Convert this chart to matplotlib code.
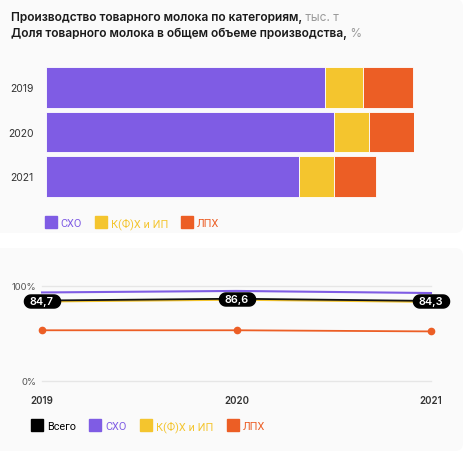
import numpy as np
import matplotlib
matplotlib.use("Agg")
import matplotlib.pyplot as plt
from matplotlib.patches import FancyBboxPatch
from matplotlib.lines import Line2D
from matplotlib.path import Path

plt.rcParams['font.family'] = ['Inter', 'DejaVu Sans']
LEGEND_FONT = ['Roboto', 'DejaVu Sans']

# --- data -------------------------------------------------------------
years = ['2019', '2020', '2021']
categories = ['СХО', 'К(Ф)Х и ИП', 'ЛПХ']
sho_volume = [1395, 1440, 1265]
kfh_volume = [190, 175, 175]
lph_volume = [250, 225, 210]

share_years = [2019, 2020, 2021]
share_total = [84.7, 86.6, 84.3]
share_sho = [93.2, 94.8, 92.6]
share_kfh = [83.7, 85.6, 83.3]
share_lph = [53.4, 53.4, 52.2]
total_labels = ['84,7', '86,6', '84,3']

title_1 = 'Производство товарного молока по категориям,'
unit_1 = ' тыс. т'
title_2 = 'Доля товарного молока в общем объеме производства,'
unit_2 = ' %'

PURPLE = '#7F5CE4'
YELLOW = '#F4C52E'
ORANGE = '#EC5E25'
PANEL = '#FAFAFA'

W, H = 467, 452


def px_box(x0, y0, x1, y1):
    """Pixel box (top-left origin) -> figure fraction rect."""
    return [x0 / W, 1 - y1 / H, (x1 - x0) / W, (y1 - y0) / H]


def stadium_marker(w, h):
    r = h / 2
    c = w / 2 - r
    t1 = np.linspace(-np.pi / 2, np.pi / 2, 20)
    t2 = np.linspace(np.pi / 2, 3 * np.pi / 2, 20)
    xs = np.concatenate([c + r * np.cos(t1), -c + r * np.cos(t2)])
    ys = np.concatenate([r * np.sin(t1), r * np.sin(t2)])
    verts = np.column_stack([xs, ys])
    verts = np.vstack([verts, verts[:1]])
    codes = [Path.MOVETO] + [Path.LINETO] * (len(verts) - 2) + [Path.CLOSEPOLY]
    return Path(verts, codes)


fig = plt.figure(figsize=(W / 100, H / 100), dpi=100)
fig.patch.set_facecolor('white')

# panel backgrounds (inches)
for (y0, y1) in [(0, 234), (249, 452)]:
    fig.patches.append(FancyBboxPatch(
        (-0.2, (H - y1) / 100), (463 + 20) / 100, (y1 - y0) / 100,
        boxstyle='round,pad=0,rounding_size=0.08',
        transform=fig.dpi_scale_trans, fc=PANEL, ec='none', zorder=-10))

# --- titles -------------------------------------------------------------
t1 = fig.text(11 / W, 1 - 21 / H, title_1, fontsize=8.6, fontweight='semibold',
              color='#1a1a1a', va='baseline')
fig.add_artist(plt.Annotation(unit_1, xy=(1, 0), xycoords=t1, fontsize=8.6,
                              color='#9a9a9a', va='bottom', ha='left'))
t2 = fig.text(11 / W, 1 - 37 / H, title_2, fontsize=8.6, fontweight='semibold',
              color='#1a1a1a', va='baseline')
fig.add_artist(plt.Annotation(unit_2, xy=(1, 0), xycoords=t2, fontsize=8.6,
                              color='#9a9a9a', va='bottom', ha='left'))

# --- bar chart ----------------------------------------------------------
ax1 = fig.add_axes(px_box(46, 66.25, 414, 199.75))
ax1.set_facecolor('none')
pos = np.arange(len(years))
left = np.zeros(len(years))
for vals, col in zip([sho_volume, kfh_volume, lph_volume], [PURPLE, YELLOW, ORANGE]):
    ax1.barh(pos, vals, left=left, height=0.9, color=col, edgecolor='white', linewidth=0.6)
    left = left + np.array(vals)
ax1.set_xlim(0, max(left))
ax1.set_ylim(2.5, -0.5)
ax1.set_yticks(pos)
ax1.set_yticklabels(years, fontsize=7.5, color='#333333')
ax1.tick_params(axis='y', length=0, pad=9)
ax1.set_xticks([])
for s in ax1.spines.values():
    s.set_visible(False)

h1 = [Line2D([], [], marker='s', linestyle='none', color=c, markersize=8.5)
      for c in [PURPLE, YELLOW, ORANGE]]
fig.legend(h1, categories, loc='center left', bbox_to_anchor=(46 / W, 1 - 224 / H),
           ncol=3, frameon=False, labelcolor='linecolor',
           prop={'family': LEGEND_FONT, 'size': 7.8},
           handlelength=0.95, handletextpad=0.4, columnspacing=1.3,
           borderpad=0, borderaxespad=0)

# --- line chart ---------------------------------------------------------
ax2 = fig.add_axes(px_box(42, 287, 431, 382))
ax2.set_facecolor('none')
ax2.set_xlim(2019, 2021)
ax2.set_ylim(0, 100)
for yv in [0, 100]:
    ax2.axhline(yv, color='#e6e6e6', lw=1, zorder=0, clip_on=False)
ax2.plot(share_years, share_sho, color=PURPLE, lw=1.5, clip_on=False, zorder=3)
ax2.plot(share_years, share_lph, color=ORANGE, lw=1.3, marker='o', ms=4.5,
         clip_on=False, zorder=3)
ax2.plot(share_years, share_kfh, color=YELLOW, lw=1.5, clip_on=False, zorder=3)
ax2.plot(share_years, share_total, color='#111111', lw=1.3, clip_on=False, zorder=4)
ax2.plot(share_years, share_total, linestyle='none', marker=stadium_marker(36, 13),
         ms=26, mfc='black', mec='black', clip_on=False, zorder=5)
for x, y, lab in zip(share_years, share_total, total_labels):
    ax2.text(x, y, lab, ha='center', va='center', color='white', fontsize=7.8,
             fontweight='semibold', zorder=6)
ax2.set_yticks([0, 100])
ax2.set_yticklabels(['0%', '100%'], fontsize=6.8, color='#555555')
ax2.set_xticks(share_years)
ax2.set_xticklabels(years, fontsize=7, fontweight='semibold', color='#333333')
ax2.tick_params(axis='y', length=0, pad=4)
ax2.tick_params(axis='x', length=0, pad=10)
for s in ax2.spines.values():
    s.set_visible(False)

h2 = [Line2D([], [], marker='s', linestyle='none', color=c, markersize=8.5)
      for c in ['black', PURPLE, YELLOW, ORANGE]]
fig.legend(h2, ['Всего'] + categories, loc='center left',
           bbox_to_anchor=(32 / W, 1 - 427 / H), ncol=4, frameon=False,
           prop={'family': LEGEND_FONT, 'size': 7.8},
           labelcolor='linecolor', handlelength=0.95, handletextpad=0.45,
           columnspacing=1.3, borderpad=0, borderaxespad=0)

fig.savefig('out.png', dpi=100, facecolor='white')
